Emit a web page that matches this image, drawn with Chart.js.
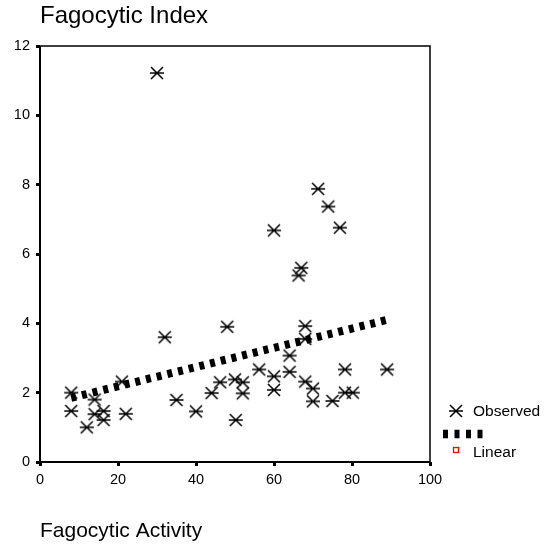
<!DOCTYPE html>
<html><head><meta charset="utf-8">
<script src="https://cdn.jsdelivr.net/npm/chart.js@4.4.1/dist/chart.umd.min.js"></script>
<style>html,body{margin:0;padding:0;background:#fff;}canvas{display:block;}</style>
</head><body>
<canvas id="c" width="550" height="548"></canvas>
<script>
const observedX = [8, 8, 12, 14, 14, 16.3, 16.3, 21, 22, 30, 32, 35, 40, 44, 46.2, 48, 50, 50.2, 52, 52, 56.2, 60, 60, 60, 64, 64, 66.3, 67, 68, 68, 68, 70, 70, 71.3, 73.9, 76.9, 75, 78.2, 78.2, 80.2, 89];
const observedY = [2.0, 1.47, 1.0, 1.8, 1.38, 1.47, 1.21, 2.32, 1.39, 11.22, 3.6, 1.79, 1.46, 1.99, 2.3, 3.9, 2.38, 1.21, 2.3, 1.98, 2.67, 6.68, 2.47, 2.08, 3.07, 2.6, 5.38, 5.6, 3.92, 3.55, 2.32, 2.12, 1.75, 7.88, 7.37, 6.76, 1.76, 2.67, 2.0, 2.0, 2.67];
const linearX = [8, 89];
const linearY = [1.85, 4.1];
const xTicks = [0, 20, 40, 60, 80, 100];
const yTicks = [0, 2, 4, 6, 8, 10, 12];
const titleText = 'Fagocytic Index';
const xTitleText = 'Fagocytic Activity';
const legendLabels = ['Observed', 'Linear'];

const FONT = "'Liberation Sans', Arial, sans-serif";

function makeStar() {
  const c = document.createElement('canvas');
  c.width = 16; c.height = 16;
  const g = c.getContext('2d');
  g.strokeStyle = '#000';
  g.lineWidth = 1.5;
  g.beginPath();
  g.moveTo(1, 8); g.lineTo(15, 8);
  g.moveTo(2, 2); g.lineTo(14, 14);
  g.moveTo(14, 2); g.lineTo(2, 14);
  g.stroke();
  return c;
}
const star = makeStar();

const frame = {
  id: 'frame',
  beforeDatasetsDraw(chart) {
    const { ctx, chartArea: a } = chart;
    ctx.save();
    ctx.strokeStyle = '#000';
    ctx.lineWidth = 1.5;
    ctx.beginPath();
    ctx.moveTo(a.left, a.top); ctx.lineTo(a.right, a.top); ctx.lineTo(a.right, a.bottom);
    ctx.stroke();
    ctx.lineWidth = 2;
    ctx.beginPath();
    ctx.moveTo(a.left, a.top); ctx.lineTo(a.left, a.bottom); ctx.lineTo(a.right, a.bottom);
    ctx.stroke();
    ctx.restore();
  }
};

const customLegend = {
  id: 'customLegend',
  afterDraw(chart) {
    const { ctx, chartArea: a } = chart;
    const x0 = a.right + 13;
    ctx.save();
    ctx.drawImage(star, x0 + 13 - star.width / 2, 411 - star.height / 2);
    ctx.fillStyle = '#000';
    ctx.font = '15.5px ' + FONT;
    ctx.textBaseline = 'middle';
    ctx.textAlign = 'left';
    ctx.fillText(legendLabels[0], x0 + 30, 412);
    ctx.strokeStyle = '#000';
    ctx.lineWidth = 8.5;
    ctx.setLineDash([5, 6.5]);
    ctx.beginPath();
    ctx.moveTo(x0, 434); ctx.lineTo(x0 + 42, 434);
    ctx.stroke();
    ctx.setLineDash([]);
    ctx.strokeStyle = '#ff0000';
    ctx.lineWidth = 1.3;
    ctx.strokeRect(x0 + 10.5, 447.5, 5, 5);
    ctx.fillStyle = '#000';
    ctx.fillText(legendLabels[1], x0 + 30, 453);
    ctx.restore();
  }
};

new Chart(document.getElementById('c'), {
  type: 'scatter',
  data: {
    datasets: [
      {
        label: legendLabels[1],
        type: 'line',
        order: 0,
        data: linearX.map((x, i) => ({ x, y: linearY[i] })),
        borderColor: '#000',
        borderWidth: 8,
        borderDash: [5, 6],
        borderCapStyle: 'butt',
        pointRadius: 0,
        fill: false,
        tension: 0
      },
      {
        label: legendLabels[0],
        order: 1,
        data: observedX.map((x, i) => ({ x, y: observedY[i] })),
        pointStyle: star,
        pointRadius: 7,
        showLine: false
      }
    ]
  },
  options: {
    responsive: false,
    animation: false,
    devicePixelRatio: 1,
    layout: { padding: { left: 0, right: 120, top: 0, bottom: 0 } },
    plugins: {
      legend: { display: false },
      tooltip: { enabled: false },
      title: {
        display: true,
        text: titleText,
        align: 'start',
        fullSize: false,
        color: '#000',
        font: { family: FONT, size: 24, weight: 'normal', lineHeight: 1.2 },
        padding: { top: 2, bottom: 15.2 }
      }
    },
    scales: {
      x: {
        type: 'linear',
        min: 0, max: 100,
        afterFit(s) { s.height = 86; },
        afterBuildTicks(s) { s.ticks = xTicks.map(v => ({ value: v })); },
        border: { display: false },
        grid: { display: true, drawOnChartArea: false, drawTicks: true, tickLength: 4, tickWidth: 3, tickColor: '#000' },
        ticks: { color: '#000', font: { family: FONT, size: 14.5 }, padding: 5, maxRotation: 0 },
        title: { display: true, text: xTitleText, align: 'start', color: '#000', font: { family: FONT, size: 21, lineHeight: 1.2 }, padding: { top: 0, bottom: 4.5 } }
      },
      y: {
        type: 'linear',
        min: 0, max: 12,
        afterFit(s) { s.width = 40; },
        afterBuildTicks(s) { s.ticks = yTicks.map(v => ({ value: v })); },
        border: { display: false },
        grid: { display: true, drawOnChartArea: false, drawTicks: true, tickLength: 4, tickWidth: 3, tickColor: '#000' },
        ticks: { color: '#000', font: { family: FONT, size: 14.5 }, padding: 6 }
      }
    }
  },
  plugins: [frame, customLegend]
});
</script>
</body></html>
